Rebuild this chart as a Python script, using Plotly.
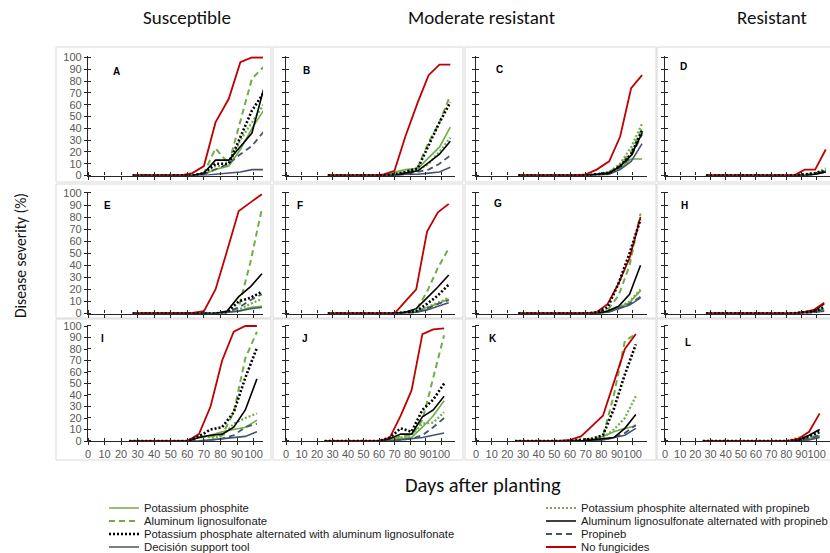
import plotly.graph_objects as go

# ---------------- data ----------------
panels = ["A", "B", "C", "D", "E", "F", "G", "H", "I", "J", "K", "L"]
column_titles = ["Susceptible", "Moderate resistant", "Resistant"]
y_title = "Disease severity (%)"
x_title = "Days after planting"

row_days = [
    [27, 34, 41, 49, 56, 63, 70, 77, 85, 92, 99, 106],
    [27, 34, 41, 48, 56, 63, 70, 77, 84, 91, 98, 105],
    [25, 32, 39, 46, 53, 60, 67, 74, 81, 88, 95, 102],
]
x_ticks = [0, 10, 20, 30, 40, 50, 60, 70, 80, 90, 100]
y_ticks = [0, 10, 20, 30, 40, 50, 60, 70, 80, 90, 100]

series_names = [
    "Potassium phosphite",
    "Aluminum lignosulfonate",
    "Potassium phosphate alternated with aluminum lignosulfonate",
    "Decisión support tool",
    "Potassium phosphite alternated with propineb",
    "Aluminum lignosulfonate alternated with propineb",
    "Propineb",
    "No fungicides",
]

# values per panel A..L
potassium_phosphite = [
    [0, 0, 0, 0, 0, 0, 1, 5, 8, 22, 40, 55],
    [0, 0, 0, 0, 0, 0, 3, 5, 6, 15, 24, 41],
    [0, 0, 0, 0, 0, 0, 0, 1, 3, 6, 14, 14],
    [0, 0, 0, 0, 0, 0, 0, 0, 0, 0, 1, 4],
    [0, 0, 0, 0, 0, 0, 0, 0, 1, 2, 5, 6],
    [0, 0, 0, 0, 0, 0, 0, 1, 2, 5, 8, 12],
    [0, 0, 0, 0, 0, 0, 0, 0, 2, 5, 9, 19],
    [0, 0, 0, 0, 0, 0, 0, 0, 0, 1, 2, 3],
    [0, 0, 0, 0, 0, 0, 3, 5, 8, 10, 12, 18],
    [0, 0, 0, 0, 0, 0, 1, 2, 3, 12, 22, 35],
    [0, 0, 0, 0, 0, 0, 0, 1, 4, 8, 11, 13],
    [0, 0, 0, 0, 0, 0, 0, 0, 0, 1, 2, 4],
]
aluminum_lignosulfonate = [
    [0, 0, 0, 0, 0, 0, 2, 23, 10, 45, 82, 92],
    [0, 0, 0, 0, 0, 0, 1, 3, 7, 28, 45, 68],
    [0, 0, 0, 0, 0, 0, 0, 1, 3, 9, 20, 40],
    [0, 0, 0, 0, 0, 0, 0, 0, 0, 1, 2, 3],
    [0, 0, 0, 0, 0, 0, 0, 0, 1, 5, 42, 87],
    [0, 0, 0, 0, 0, 0, 0, 1, 3, 18, 38, 54],
    [0, 0, 0, 0, 0, 0, 0, 1, 3, 15, 40, 83],
    [0, 0, 0, 0, 0, 0, 0, 0, 0, 1, 2, 4],
    [0, 0, 0, 0, 0, 0, 3, 4, 5, 25, 72, 95],
    [0, 0, 0, 0, 0, 0, 1, 4, 5, 18, 55, 92],
    [0, 0, 0, 0, 0, 0, 1, 2, 4, 40, 87, 93],
    [0, 0, 0, 0, 0, 0, 0, 0, 0, 1, 3, 5],
]
phosphite_alt_lignosulfonate = [
    [0, 0, 0, 0, 0, 0, 2, 10, 10, 33, 55, 70],
    [0, 0, 0, 0, 0, 0, 1, 3, 6, 25, 45, 62],
    [0, 0, 0, 0, 0, 0, 0, 1, 2, 8, 18, 38],
    [0, 0, 0, 0, 0, 0, 0, 0, 0, 1, 2, 4],
    [0, 0, 0, 0, 0, 0, 0, 0, 1, 10, 13, 18],
    [0, 0, 0, 0, 0, 0, 0, 1, 2, 8, 15, 24],
    [0, 0, 0, 0, 0, 0, 0, 1, 5, 25, 50, 78],
    [0, 0, 0, 0, 0, 0, 0, 0, 0, 1, 2, 5],
    [0, 0, 0, 0, 0, 0, 4, 10, 12, 25, 55, 81],
    [0, 0, 0, 0, 0, 0, 3, 11, 8, 27, 36, 50],
    [0, 0, 0, 0, 0, 0, 1, 2, 5, 28, 58, 84],
    [0, 0, 0, 0, 0, 0, 0, 0, 0, 1, 4, 8],
]
decision_support_tool = [
    [0, 0, 0, 0, 0, 0, 0, 1, 2, 3, 5, 5],
    [0, 0, 0, 0, 0, 0, 0, 1, 1, 2, 3, 7],
    [0, 0, 0, 0, 0, 0, 0, 0, 1, 5, 12, 27],
    [0, 0, 0, 0, 0, 0, 0, 0, 0, 0, 1, 3],
    [0, 0, 0, 0, 0, 0, 0, 0, 1, 2, 4, 5],
    [0, 0, 0, 0, 0, 0, 0, 0, 1, 3, 6, 9],
    [0, 0, 0, 0, 0, 0, 0, 0, 1, 4, 7, 13],
    [0, 0, 0, 0, 0, 0, 0, 0, 0, 0, 1, 2],
    [0, 0, 0, 0, 0, 0, 0, 1, 2, 3, 4, 8],
    [0, 0, 0, 0, 0, 0, 0, 1, 2, 3, 5, 7],
    [0, 0, 0, 0, 0, 0, 0, 0, 1, 3, 5, 11],
    [0, 0, 0, 0, 0, 0, 0, 0, 0, 0, 1, 3],
]
phosphite_alt_propineb = [
    [0, 0, 0, 0, 0, 0, 1, 8, 8, 30, 45, 60],
    [0, 0, 0, 0, 0, 0, 1, 3, 4, 10, 20, 32],
    [0, 0, 0, 0, 0, 0, 0, 1, 3, 10, 24, 44],
    [0, 0, 0, 0, 0, 0, 0, 0, 0, 0, 2, 6],
    [0, 0, 0, 0, 0, 0, 0, 0, 1, 3, 8, 12],
    [0, 0, 0, 0, 0, 0, 0, 1, 2, 5, 9, 13],
    [0, 0, 0, 0, 0, 0, 0, 0, 2, 5, 10, 20],
    [0, 0, 0, 0, 0, 0, 0, 0, 0, 0, 1, 3],
    [0, 0, 0, 0, 0, 0, 5, 3, 4, 15, 20, 24],
    [0, 0, 0, 0, 0, 0, 1, 3, 5, 15, 16, 25],
    [0, 0, 0, 0, 0, 0, 0, 1, 3, 10, 20, 39],
    [0, 0, 0, 0, 0, 0, 0, 0, 0, 3, 3, 4],
]
lignosulfonate_alt_propineb = [
    [0, 0, 0, 0, 0, 0, 2, 13, 13, 25, 36, 73],
    [0, 0, 0, 0, 0, 0, 0, 2, 4, 11, 18, 29],
    [0, 0, 0, 0, 0, 0, 0, 1, 2, 8, 17, 36],
    [0, 0, 0, 0, 0, 0, 0, 0, 0, 0, 1, 3],
    [0, 0, 0, 0, 0, 0, 0, 0, 2, 14, 22, 33],
    [0, 0, 0, 0, 0, 0, 0, 1, 4, 13, 22, 32],
    [0, 0, 0, 0, 0, 0, 0, 0, 2, 6, 16, 40],
    [0, 0, 0, 0, 0, 0, 0, 0, 0, 1, 2, 8],
    [0, 0, 0, 0, 0, 0, 3, 5, 6, 12, 27, 54],
    [0, 0, 0, 0, 0, 0, 2, 6, 6, 21, 27, 39],
    [0, 0, 0, 0, 0, 0, 0, 1, 2, 3, 11, 23],
    [0, 0, 0, 0, 0, 0, 0, 0, 0, 1, 5, 10],
]
propineb = [
    [0, 0, 0, 0, 0, 0, 1, 5, 10, 18, 25, 37],
    [0, 0, 0, 0, 0, 0, 0, 1, 3, 5, 10, 17],
    [0, 0, 0, 0, 0, 0, 0, 1, 2, 7, 16, 35],
    [0, 0, 0, 0, 0, 0, 0, 0, 0, 0, 1, 4],
    [0, 0, 0, 0, 0, 0, 0, 0, 1, 5, 11, 16],
    [0, 0, 0, 0, 0, 0, 0, 0, 1, 4, 8, 11],
    [0, 0, 0, 0, 0, 0, 0, 0, 1, 4, 8, 14],
    [0, 0, 0, 0, 0, 0, 0, 0, 0, 0, 1, 3],
    [0, 0, 0, 0, 0, 0, 0, 1, 2, 5, 12, 15],
    [0, 0, 0, 0, 0, 0, 0, 1, 2, 5, 12, 20],
    [0, 0, 0, 0, 0, 0, 0, 0, 1, 3, 7, 14],
    [0, 0, 0, 0, 0, 0, 0, 0, 0, 1, 2, 5],
]
no_fungicides = [
    [0, 0, 0, 0, 0, 2, 8, 45, 65, 96, 100, 100],
    [0, 0, 0, 0, 0, 1, 4, 33, 62, 85, 94, 94],
    [0, 0, 0, 0, 0, 0, 1, 5, 12, 33, 74, 85],
    [0, 0, 0, 0, 0, 0, 0, 0, 0, 5, 5, 22],
    [0, 0, 0, 0, 0, 0.5, 2, 20, 52, 85, 92, 99],
    [0, 0, 0, 0, 0, 0, 0, 10, 20, 68, 84, 91],
    [0, 0, 0, 0, 0, 0, 0, 1, 8, 25, 46, 80],
    [0, 0, 0, 0, 0, 0, 0, 0, 0, 1, 3, 9],
    [0, 0, 0, 0, 0, 0, 6, 30, 70, 95, 100, 100],
    [0, 0, 0, 0, 0, 0, 3, 22, 44, 93, 97, 98],
    [0, 0, 0, 0, 0, 1, 4, 13, 22, 51, 80, 93],
    [0, 0, 0, 0, 0, 0, 0, 0, 0, 2, 8, 24],
]

series_values = [
    potassium_phosphite, aluminum_lignosulfonate, phosphite_alt_lignosulfonate,
    decision_support_tool, phosphite_alt_propineb, lignosulfonate_alt_propineb,
    propineb, no_fungicides,
]

# ---------------- styles / layout ----------------
W, H = 830, 553
GREEN, SLATE, RED, BLACK = "#70ad47", "#44546a", "#c00000", "#000000"
styles = [
    dict(color=GREEN, dash="solid", width=1.6),
    dict(color=GREEN, dash="6px,4px", width=2),
    dict(color=BLACK, dash="2px,2px", width=2.6),
    dict(color=SLATE, dash="solid", width=1.6),
    dict(color=GREEN, dash="2px,2px", width=2.2),
    dict(color=BLACK, dash="solid", width=1.6),
    dict(color=SLATE, dash="6px,4px", width=1.8),
    dict(color=RED, dash="solid", width=1.8),
]
draw_order = [0, 1, 4, 3, 6, 5, 7, 2]

# pixel geometry of the axes: (x of day 0, px per day, max day shown)
col_geom = [(88, 1.656, 105.7), (286, 1.55, 109), (476, 1.567, 109), (665, 1.517, 108.8)]
# (pixel of y=0, pixel of y=100)
row_geom = [(175.5, 57.5), (313.5, 193), (441, 326)]
Y_MAX = 101

def px_x(p):
    return p / W

def px_y(p):
    return 1 - p / H

fig = go.Figure()
layout_axes = {}
for k, letter in enumerate(panels):
    r, c = divmod(k, 4)
    n = k + 1
    xname = "x" if n == 1 else f"x{n}"
    yname = "y" if n == 1 else f"y{n}"
    x0, sx, xmax = col_geom[c]
    y0p, y100p = row_geom[r]
    per = (y0p - y100p) / 100.0
    xdom = [px_x(x0), min(1.0, px_x(x0 + sx * xmax))]
    ydom = [px_y(y0p), px_y(y0p - per * Y_MAX)]
    for si in draw_order:
        st = styles[si]
        fig.add_trace(go.Scatter(
            x=row_days[r], y=series_values[si][k], mode="lines",
            name=series_names[si],
            line=dict(color=st["color"], dash=st["dash"], width=st["width"]),
            xaxis=xname, yaxis=yname,
            showlegend=(k == 0),
            legend="legend" if si == 0 else f"legend{si + 1}",
            hoverinfo="skip",
        ))
    axis_common = dict(
        showline=True, linecolor="#262626", linewidth=1.3,
        ticks="outside", ticklen=3, tickwidth=1.3, tickcolor="#262626",
        showgrid=False, zeroline=False, fixedrange=True, tickangle=0,
        tickfont=dict(family="Liberation Sans, Arial", size=11, color="#595959"),
    )
    layout_axes["xaxis" if n == 1 else f"xaxis{n}"] = dict(
        axis_common, domain=xdom, range=[0, xmax], anchor=yname,
        tickmode="array", tickvals=x_ticks, ticktext=[str(v) for v in x_ticks],
        showticklabels=(r == 2),
        minor=dict(ticks="inside", tickmode="array", tickvals=[v + 0.02 for v in x_ticks],
                   ticklen=3, tickwidth=1.3, tickcolor="#262626", showgrid=False),
    )
    layout_axes["yaxis" if n == 1 else f"yaxis{n}"] = dict(
        axis_common, domain=ydom, range=[0, Y_MAX], anchor=xname,
        tickmode="array", tickvals=y_ticks, ticktext=[str(v) for v in y_ticks],
        showticklabels=(c == 0),
        minor=dict(ticks="inside", tickmode="array", tickvals=[v + 0.02 for v in y_ticks],
                   ticklen=3, tickwidth=1.3, tickcolor="#262626", showgrid=False),
    )

fig.update_layout(**layout_axes)

annotations = []
letter_pos = [(17, 88), (13, 89), (15, 90), (12, 92),
              (12, 90), (9, 90), (14, 91), (13, 90),
              (9, 89), (12, 89), (11, 89), (15, 86)]
for k, letter in enumerate(panels):
    n = k + 1
    annotations.append(dict(
        text=f"<b>{letter}</b>", x=letter_pos[k][0], y=letter_pos[k][1],
        xref="x" if n == 1 else f"x{n}", yref="y" if n == 1 else f"y{n}",
        showarrow=False, font=dict(family="Liberation Sans, Arial", size=10, color="#000"),
    ))

title_font = dict(family="Carlito, Lato, Liberation Sans", size=19, color="#111")
for text, cx in zip(column_titles, [187, 482, 772]):
    annotations.append(dict(text=text, x=px_x(cx), y=px_y(17), xref="paper", yref="paper",
                            showarrow=False, font=title_font, xanchor="center", yanchor="middle"))
annotations.append(dict(text=y_title, x=px_x(21), y=px_y(256), xref="paper", yref="paper",
                        showarrow=False, textangle=-90, font=dict(title_font, size=15.5),
                        xanchor="center", yanchor="middle"))
annotations.append(dict(text=x_title, x=px_x(483), y=px_y(485), xref="paper", yref="paper",
                        showarrow=False, font=dict(title_font, size=20.5),
                        xanchor="center", yanchor="middle"))

# panel frames
col_edges = [(56, 271), (273, 463), (465, 656), (657, 840)]
row_edges = [(47, 182), (184, 318), (319, 460)]
shapes = []
for (ry0, ry1) in row_edges:
    for (cx0, cx1) in col_edges:
        shapes.append(dict(type="rect", xref="paper", yref="paper",
                           x0=px_x(cx0), x1=px_x(cx1), y0=px_y(ry1), y1=px_y(ry0),
                           line=dict(color="#d9d9d9", width=1), layer="below"))

# legends: one per series, placed in two columns
legend_cols = [104, 541]
legend_rows = [508, 521, 534, 547]
legends = {}
for si in range(8):
    col, row = divmod(si, 4)
    key = "legend" if si == 0 else f"legend{si + 1}"
    legends[key] = dict(
        x=px_x(legend_cols[col]), y=px_y(legend_rows[row]), xanchor="left", yanchor="middle",
        bgcolor="rgba(0,0,0,0)", borderwidth=0,
        font=dict(family="Liberation Sans, Arial", size=11.3, color="#1a1a1a"),
        itemwidth=30, tracegroupgap=0,
    )

fig.update_layout(
    width=W, height=H, margin=dict(l=0, r=0, t=0, b=0, autoexpand=False),
    paper_bgcolor="white", plot_bgcolor="white",
    annotations=annotations, shapes=shapes, **legends,
)

fig.write_html("out.html")
